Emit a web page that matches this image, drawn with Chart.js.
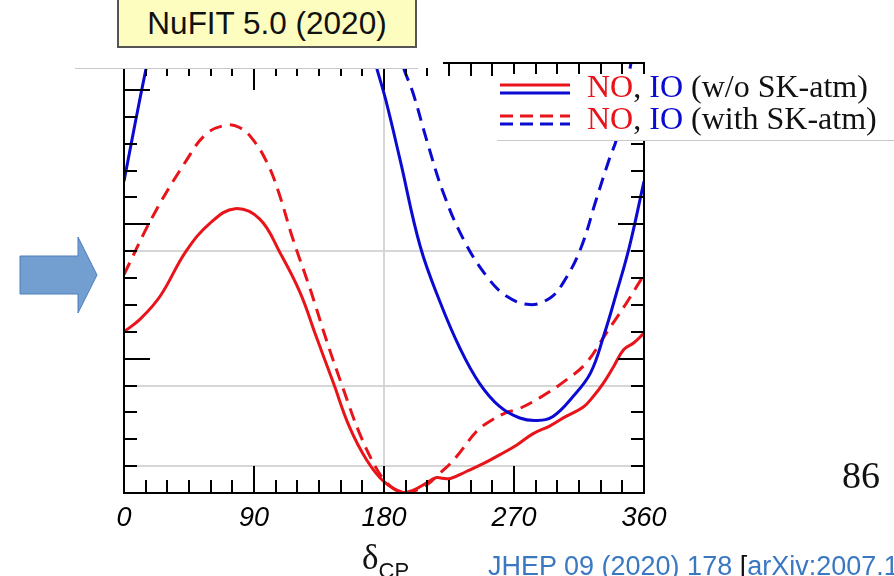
<!DOCTYPE html>
<html>
<head>
<meta charset="utf-8">
<script src="https://cdn.jsdelivr.net/npm/chart.js@4.4.1/dist/chart.umd.min.js"></script>
<style>
  html, body { margin:0; padding:0; background:#fff; }
  body { width:894px; height:576px; position:relative; overflow:hidden; }
  #c { position:absolute; left:0; top:0; width:894px; height:576px; }
  .abs { position:absolute; white-space:nowrap; }
</style>
</head>
<body>
<canvas id="c" width="894" height="576"></canvas>

<!-- slide overlay covering top of plot -->
<div class="abs" style="left:75px;top:0;width:368px;height:68px;background:#fff;"></div>
<div class="abs" style="left:75px;top:68px;width:343px;height:1px;background:#c8c8c8;"></div>

<div class="abs" style="left:117px;top:-2px;width:296px;height:46px;background:#fdfdc0;border:2px solid #555;font:31.5px 'Liberation Sans',Arial,sans-serif;line-height:46px;text-align:center;color:#111;">NuFIT 5.0 (2020)</div>

<!-- legend -->
<div class="abs" style="left:497px;top:74px;width:397px;height:66px;background:#fff;border-bottom:1px solid #c8c8c8;"></div>
<svg class="abs" style="left:0;top:0;" width="894" height="576">
  <line x1="500" y1="85" x2="570" y2="85" stroke="#e8141a" stroke-width="3"/>
  <line x1="500" y1="93" x2="570" y2="93" stroke="#0a0ad2" stroke-width="3"/>
  <line x1="500" y1="116" x2="570" y2="116" stroke="#e8141a" stroke-width="3" stroke-dasharray="13 7"/>
  <line x1="500" y1="124" x2="570" y2="124" stroke="#0a0ad2" stroke-width="3" stroke-dasharray="13 7"/>
  <polygon points="20,256 78,256 78,237 97,275 78,313 78,294 20,294" fill="#729fcf" stroke="#4a7ebb" stroke-width="1"/>
</svg>
<div class="abs" style="left:587px;top:70px;font:32px 'Liberation Serif','Times New Roman',serif;line-height:32px;color:#111;"><span style="color:#e8141a">NO</span>, <span style="color:#0a0ad2">IO</span> (w/o SK-atm)</div>
<div class="abs" style="left:587px;top:102px;font:32px 'Liberation Serif','Times New Roman',serif;line-height:32px;color:#111;"><span style="color:#e8141a">NO</span>, <span style="color:#0a0ad2">IO</span> (with SK-atm)</div>

<div class="abs" style="left:842px;top:456px;font:38px 'Liberation Serif','Times New Roman',serif;line-height:38px;color:#111;">86</div>

<div class="abs" style="left:362px;top:540px;font:35px 'Liberation Serif','Times New Roman',serif;line-height:35px;color:#111;">δ<span style="font:22px 'Liberation Sans',Arial,sans-serif;position:relative;top:9px;">CP</span></div>

<div class="abs" style="left:488px;top:553px;font:27px 'Liberation Sans',Arial,sans-serif;line-height:27px;color:#3a78c2;">JHEP 09 (2020) 178 <span style="color:#111">[</span>arXiv:2007.14792<span style="color:#111">]</span></div>

<script>
// ---- data ----
const deltaNOwo = [0, 11, 25, 43, 60, 77, 94, 108, 122, 133, 145, 156, 168, 180, 193, 200, 209, 216, 220, 226, 237, 249, 260, 272, 283, 295, 306, 318, 325, 332, 339, 346, 353, 360];
const chi2NOwo  = [6.0, 6.46, 7.32, 9.0, 10.06, 10.58, 10.19, 8.94, 7.45, 5.83, 4.09, 2.47, 1.23, 0.42, 0.02, 0.1, 0.36, 0.57, 0.55, 0.54, 0.8, 1.1, 1.42, 1.79, 2.2, 2.5, 2.85, 3.2, 3.6, 4.1, 4.71, 5.34, 5.59, 5.95];

const deltaNOw = [0, 20, 43, 57, 71, 80, 89, 99, 107, 117, 129, 140, 152, 163, 174, 180, 187, 194, 200, 206, 212, 219, 226, 233, 244, 253, 265, 272, 288, 306, 320, 334, 348, 358, 360];
const chi2NOw  = [8.13, 10.3, 12.36, 13.36, 13.69, 13.6, 13.17, 12.3, 11.2, 9.44, 7.57, 5.71, 3.84, 2.23, 0.98, 0.5, 0.15, 0.0, 0.05, 0.2, 0.4, 0.75, 1.1, 1.54, 2.29, 2.66, 3.0, 3.1, 3.55, 4.2, 4.84, 5.96, 7.08, 7.95, 8.1];

const deltaIOwo = [0, 5, 11, 16, 20, 90, 168, 175, 181, 191, 205, 219, 233, 246, 260, 274, 286, 297, 311, 323, 332, 341, 350, 360];
const chi2IOwo  = [11.6, 13.0, 14.66, 16.0, 17.2, null, 17.2, 15.8, 14.67, 12.43, 9.19, 7.08, 5.34, 4.09, 3.22, 2.79, 2.7, 2.85, 3.6, 4.47, 5.83, 7.45, 9.19, 11.6];

const deltaIOw = [186, 193, 200, 210, 221, 235, 251, 265, 281, 295, 304, 316, 327, 336, 341, 346, 351, 356];
const chi2IOw  = [17.3, 15.9, 14.9, 13.05, 11.18, 9.44, 8.07, 7.32, 7.01, 7.26, 7.82, 9.07, 10.93, 12.43, 13.17, 14.5, 16.0, 17.5];

const xMajorTicks = [0, 90, 180, 270, 360];
const xTickStep = 15;
const yMajorTicks = [5, 10, 15];
const sigmaLevels = [1, 4, 9];
const refDelta = [180];

const RED = '#e8141a', BLUE = '#0a0ad2';
const pts = (xs, ys) => xs.map((x, i) => ({x, y: ys[i]}));

const frameAndTicks = {
  id: 'frameAndTicks',
  afterDatasetsDraw(chart) {
    const {ctx, chartArea: a, scales: {x, y}} = chart;
    ctx.save();
    ctx.strokeStyle = '#000';
    ctx.lineWidth = 2;
    ctx.beginPath();
    x.ticks.forEach(t => {
      const px = Math.round(x.getPixelForValue(t.value));
      const len = xMajorTicks.includes(t.value) ? 27 : 13;
      ctx.moveTo(px, a.bottom); ctx.lineTo(px, a.bottom - len);
      ctx.moveTo(px, a.top); ctx.lineTo(px, a.top + len);
    });
    y.ticks.forEach(t => {
      const py = Math.round(y.getPixelForValue(t.value));
      const len = yMajorTicks.includes(t.value) ? 26 : 13;
      ctx.moveTo(a.left, py); ctx.lineTo(a.left + len, py);
      ctx.moveTo(a.right, py); ctx.lineTo(a.right - len, py);
    });
    ctx.stroke();
    ctx.strokeRect(a.left, a.top, a.right - a.left, a.bottom - a.top);
    ctx.restore();
  }
};

new Chart(document.getElementById('c'), {
  type: 'line',
  data: {
    datasets: [
      {label: 'NO (w/o SK-atm)', data: pts(deltaNOwo, chi2NOwo), borderColor: RED, borderWidth: 3},
      {label: 'IO (w/o SK-atm)', data: pts(deltaIOwo, chi2IOwo), borderColor: BLUE, borderWidth: 3},
      {label: 'NO (with SK-atm)', data: pts(deltaNOw, chi2NOw), borderColor: RED, borderWidth: 3, borderDash: [13, 8]},
      {label: 'IO (with SK-atm)', data: pts(deltaIOw, chi2IOw), borderColor: BLUE, borderWidth: 3, borderDash: [13, 8]}
    ]
  },
  options: {
    responsive: false,
    animation: false,
    devicePixelRatio: 1,
    layout: {padding: {left: 124, right: 250, top: 63, bottom: 0}},
    elements: {point: {radius: 0}, line: {tension: 0.4, fill: false, borderJoinStyle: 'round', borderCapStyle: 'butt'}},
    plugins: {legend: {display: false}, tooltip: {enabled: false}},
    scales: {
      x: {
        type: 'linear', min: 0, max: 360,
        border: {display: false},
        grid: {drawTicks: false, lineWidth: 2,
               color: c => refDelta.includes(c.tick && c.tick.value) ? '#d6d6d6' : 'rgba(0,0,0,0)'},
        ticks: {stepSize: xTickStep, autoSkip: false, maxRotation: 0, padding: 9, color: '#000',
                font: {family: "'Liberation Sans', Arial, sans-serif", size: 27, style: 'italic'},
                callback: v => xMajorTicks.includes(v) ? String(v) : ''},
        afterFit: s => { s.height = 83; s.paddingLeft = 0; s.paddingRight = 0; }
      },
      y: {
        type: 'linear', min: 0, max: 16,
        border: {display: false},
        grid: {drawTicks: false, lineWidth: 2,
               color: c => sigmaLevels.includes(c.tick && c.tick.value) ? '#d6d6d6' : 'rgba(0,0,0,0)'},
        ticks: {stepSize: 1, display: false},
        afterFit: s => { s.width = 0; }
      }
    }
  },
  plugins: [frameAndTicks]
});
</script>
</body>
</html>
